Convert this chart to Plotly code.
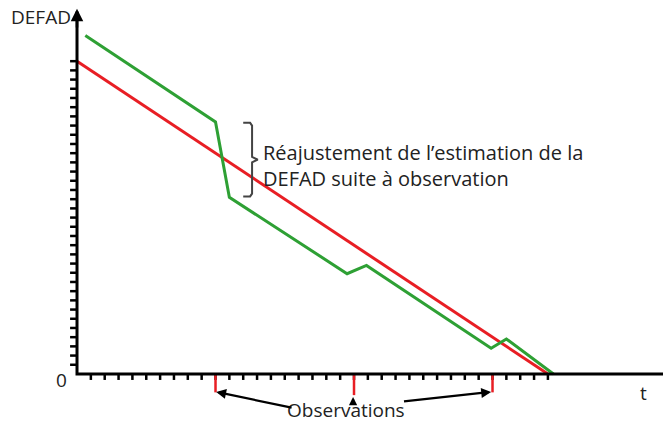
import plotly.graph_objects as go

# time ticks along the t axis, DEFAD ticks along the vertical axis
t_ticks = list(range(1, 35))
defad_ticks = list(range(1, 35))

# estimated DEFAD (red) and DEFAD re-estimated after each observation (green)
red_t = [0, 34]
red_defad = [34, 0]
green_t = [0.6, 10.0, 11.0, 19.5, 20.9, 29.9, 31.0, 34.4]
green_defad = [36.8, 27.4, 19.2, 10.9, 11.8, 2.8, 3.8, 0.0]

# observation times
obs_t = [10, 20, 30]
obs_depth = [-2.0, -2.3, -2.0]

RED = "rgb(232,30,36)"
GREEN = "rgb(46,160,52)"
FONT = "Open Sans"

fig = go.Figure()

# axis ticks
tx, ty = [], []
for t in t_ticks:
    tx += [t, t, None]
    ty += [0, -0.65, None]
fig.add_trace(go.Scatter(x=tx, y=ty, mode="lines", line=dict(color="black", width=2.5),
                         hoverinfo="skip", showlegend=False))
vx, vy = [], []
for d in defad_ticks:
    vx += [-0.5, 0, None]
    vy += [d, d, None]
fig.add_trace(go.Scatter(x=vx, y=vy, mode="lines", line=dict(color="black", width=2.5),
                         hoverinfo="skip", showlegend=False))

# observation markers below the t axis
ox, oy = [], []
for t, d in zip(obs_t, obs_depth):
    ox += [t, t, None]
    oy += [0, d, None]
fig.add_trace(go.Scatter(x=ox, y=oy, mode="lines", line=dict(color=RED, width=2.5),
                         hoverinfo="skip", showlegend=False))

# the two DEFAD curves
fig.add_trace(go.Scatter(x=red_t, y=red_defad, mode="lines", line=dict(color=RED, width=3),
                         showlegend=False))
fig.add_trace(go.Scatter(x=green_t, y=green_defad, mode="lines", line=dict(color=GREEN, width=3),
                         showlegend=False))

# bracket around the first readjustment
top, bot = green_defad[1] - 0.1, green_defad[2] + 0.1
mid = (top + bot) / 2
bx = [12.0, 12.5, 12.64, 12.64, 13.05, 12.64, 12.64, 12.5, 12.0]
by = [top, top, top - 0.3, mid + 0.3, mid, mid - 0.3, bot + 0.3, bot, bot]
fig.add_trace(go.Scatter(x=bx, y=by, mode="lines", line=dict(color="#444", width=2),
                         hoverinfo="skip", showlegend=False))

# axes with arrows
fig.add_trace(go.Scatter(x=[0, 0, 42.4], y=[39.4, 0, 0], mode="lines",
                         line=dict(color="black", width=3), hoverinfo="skip", showlegend=False))
fig.add_annotation(x=0, y=39.7, ax=0, ay=37.5, xref="x", yref="y", axref="x", ayref="y",
                   text="", showarrow=True, arrowhead=2, arrowsize=1, arrowwidth=2.5,
                   arrowcolor="black")

ink = "#222"
fig.add_annotation(x=-0.3, y=38.8, text="DEFAD", showarrow=False, xanchor="right",
                   font=dict(family=FONT, size=19, color=ink))
fig.add_annotation(x=-1.1, y=-0.7, text="0", showarrow=False,
                   font=dict(family=FONT, size=19, color=ink))
fig.add_annotation(x=40.9, y=-2.1, text="t", showarrow=False,
                   font=dict(family=FONT, size=19, color=ink))
fig.add_annotation(x=13.3, y=24.1, text="Réajustement de l’estimation de la",
                   showarrow=False, xanchor="left", font=dict(family=FONT, size=20, color=ink))
fig.add_annotation(x=13.3, y=21.3, text="DEFAD suite à observation",
                   showarrow=False, xanchor="left", font=dict(family=FONT, size=20, color=ink))
fig.add_annotation(x=19.4, y=-3.95, text="Observations", showarrow=False,
                   font=dict(family=FONT, size=19, color=ink))

# arrows from the label to each observation
tips = [(obs_t[0] + 0.05, obs_depth[0] + 0.05),
        (obs_t[1] - 0.07, obs_depth[1] - 0.2),
        (obs_t[2] - 0.1, obs_depth[2] + 0.05)]
tails = [(15.6, -3.7), (obs_t[1] - 0.07, -3.5), (23.5, -3.0)]
sizes = [0.9, 0.75, 0.9]
for (x, y), (axx, ayy), s in zip(tips, tails, sizes):
    fig.add_annotation(x=x, y=y, ax=axx, ay=ayy, xref="x", yref="y", axref="x", ayref="y",
                       text="", showarrow=True, arrowhead=2, arrowsize=s, arrowwidth=2.2,
                       arrowcolor="black")

fig.update_layout(
    width=663, height=430,
    margin=dict(l=0, r=0, t=0, b=0),
    plot_bgcolor="white", paper_bgcolor="white",
    xaxis=dict(visible=False, range=[-5.56, 42.31], fixedrange=True),
    yaxis=dict(visible=False, range=[-6.09, 40.65], fixedrange=True),
    showlegend=False,
)

fig.write_html("out.html", config={"displayModeBar": False},
               post_script="document.body.style.margin='0';")
